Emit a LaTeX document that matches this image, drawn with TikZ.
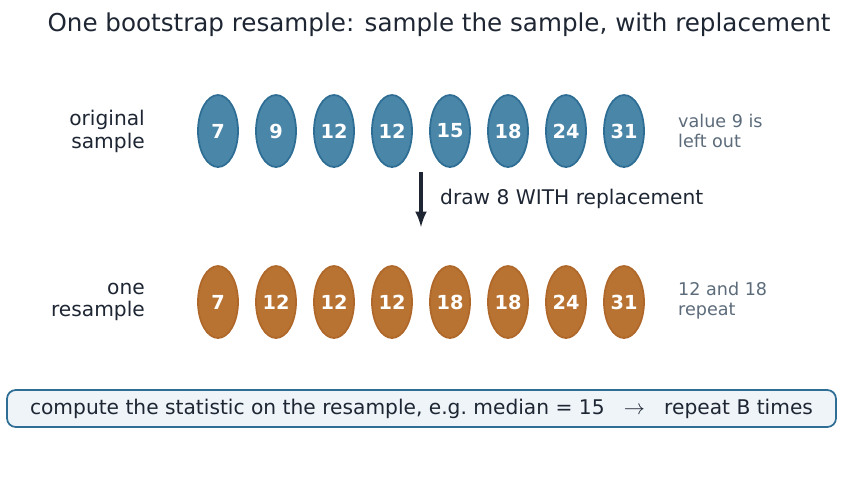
\documentclass[tikz,border=0pt]{standalone}
\usepackage{fontspec}
\setmainfont{DejaVu Sans}
\usetikzlibrary{shapes.geometric}
\definecolor{inkdark}{HTML}{1E2633}
\definecolor{blueval}{HTML}{4A86A8}
\definecolor{blueedge}{HTML}{2F6E94}
\definecolor{orangeval}{HTML}{B87333}
\definecolor{orangeedge}{HTML}{B0682A}
\definecolor{notegray}{HTML}{5C6B7A}
\definecolor{boxfill}{HTML}{EEF4F8}
\tikzset{
  value/.style={draw, ellipse, line width=1pt, minimum width=40*0.02cm, minimum height=72*0.02cm,
    inner sep=0pt, text=white, font=\bfseries\fontsize{11}{13}\selectfont},
  orig/.style={value, fill=blueval, draw=blueedge},
  res/.style={value, fill=orangeval, draw=orangeedge},
  rowlabel/.style={align=right, anchor=east, text=inkdark, font=\fontsize{11.5}{13}\selectfont},
  note/.style={align=left, anchor=west, text=notegray, font=\fontsize{10}{11.5}\selectfont}
}
\begin{document}
\begin{tikzpicture}[x=0.02cm, y=-0.02cm]
  \useasboundingbox (0,0) rectangle (849,488);

  \node[text=inkdark, font=\fontsize{14}{16}\selectfont] (title) at (439,25) {One bootstrap resample: sample the sample, with replacement};

  \node[rowlabel] (origlabel) at (151,131) {original\\sample};
  \node[rowlabel] (reslabel) at (151,302) {one\\resample};

  % original sample
  \foreach \v [count=\i] in {7,9,12,12,15,18,24,31}
    \node[orig] (o\i) at (160+58*\i,131) {\v};

  % one resample
  \foreach \v [count=\i] in {7,12,12,12,18,18,24,31}
    \node[res] (r\i) at (160+58*\i,302) {\v};

  \node[note] (onote) at (672,131) {value 9 is\\left out};
  \node[note] (rnote) at (672,301) {12 and 18\\repeat};

  \coordinate (drawtop) at (421,172);
  \coordinate (drawbot) at (421,227);
  \draw[->, >=latex, line width=2pt, inkdark] (drawtop) -- (drawbot);
  \node[anchor=west, text=inkdark, font=\fontsize{11.5}{13}\selectfont] (drawlabel) at (434,199) {draw 8 WITH replacement};

  \node[draw=blueedge, fill=boxfill, line width=1pt, rounded corners=5pt,
    minimum width=829*0.02cm, minimum height=37*0.02cm, text=inkdark,
    font=\fontsize{11.5}{13}\selectfont] (summary) at (421.5,408.5)
    {compute the statistic on the resample, e.g.\ median = 15 \ \ $\rightarrow$ \ \ repeat B times};
\end{tikzpicture}
\end{document}
